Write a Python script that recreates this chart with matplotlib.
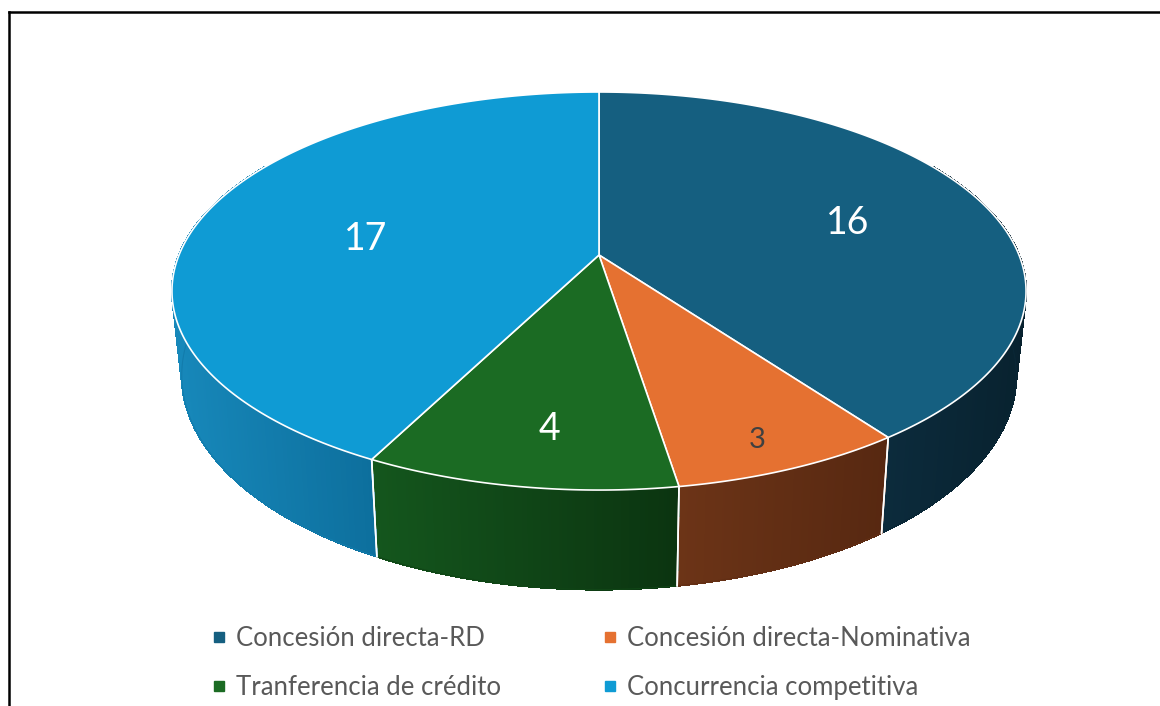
import numpy as np
import matplotlib
matplotlib.use("Agg")
import matplotlib.pyplot as plt
from matplotlib.patches import Polygon
from matplotlib.lines import Line2D

# datos
categorias = ["Concesión directa-RD", "Concesión directa-Nominativa",
              "Tranferencia de crédito", "Concurrencia competitiva"]
valores = [16, 3, 4, 17]

# estilos
col_top = ["#155f80", "#e57131", "#1b6b23", "#0f9bd4"]
col_side_izq = ["#0c2b3c", "#6c3417", "#14561d", "#1788ba"]
col_side_der = ["#08222f", "#572811", "#0b3410", "#0d6f9d"]
col_lbl = ["white", "#404040", "white", "white"]
tam_lbl = [27, 21, 27, 27]
lbl_r = [0.645, 0.845, 0.66, 0.585]
lbl_dy = [5, 10, 32, 10]

# geometria (pixeles)
W, H = 1160, 706
cx, cy = 599, 255
RX, RY, K = 420, 192.5, 0.181
T, SHRINK = 81.5, 0.977

plt.rcParams['font.family'] = ['Lato', 'DejaVu Sans']


def proj(theta, r=1.0):
    t = np.radians(theta)
    u = r * np.sin(t)
    v = r * np.cos(t)
    s = 1.0 / (1.0 + K * v)
    return cx + RX * u * s, cy - RY * v * s, s


def fondo(theta):
    x, y, s = proj(theta)
    return cx + SHRINK * (x - cx), y + T * s


def mezcla(c1, c2, f):
    a = np.array(matplotlib.colors.to_rgb(c1))
    b = np.array(matplotlib.colors.to_rgb(c2))
    return tuple(a + (b - a) * f)


fig = plt.figure(figsize=(W / 100, H / 100), dpi=100)
ax = fig.add_axes([0, 0, 1, 1])
ax.set_xlim(0, W)
ax.set_ylim(H, 0)
ax.axis("off")

total = float(sum(valores))
angs = np.concatenate([[0], np.cumsum(valores) / total * 360])

# laterales
for i in range(len(valores)):
    a0, a1 = max(angs[i], 60), min(angs[i + 1], 300)
    if a1 <= a0:
        continue
    th = np.linspace(a0, a1, 120)
    xs_all = [proj(t)[0] for t in th]
    xmin, xmax = min(xs_all), max(xs_all)
    for j in range(len(th) - 1):
        p1 = proj(th[j])[:2]
        p2 = proj(th[j + 1])[:2]
        b1 = fondo(th[j])
        b2 = fondo(th[j + 1])
        xm = (p1[0] + p2[0]) / 2
        f = (xm - xmin) / (xmax - xmin) if xmax > xmin else 0
        c = mezcla(col_side_izq[i], col_side_der[i], f)
        ax.add_patch(Polygon([p1, p2, b2, b1], closed=True, facecolor=c,
                             edgecolor=c, lw=0.8, antialiased=False, zorder=2))
    # contorno suave del lateral
    borde = [fondo(t) for t in th]
    ax.plot([b[0] for b in borde], [b[1] for b in borde],
            color=mezcla(col_side_izq[i], col_side_der[i], 0.5), lw=0.8, zorder=2)
    # bordes verticales
    for a in (angs[i], angs[i + 1]):
        if 60 < a < 300:
            p = proj(a)[:2]
            b = fondo(a)
            ax.plot([p[0], b[0]], [p[1], b[1]], color="white", lw=1.2, zorder=3)

# caras superiores
for i in range(len(valores)):
    th = np.linspace(angs[i], angs[i + 1], 200)
    pts = [(cx, cy)] + [proj(t)[:2] for t in th]
    ax.add_patch(Polygon(pts, closed=True, facecolor=col_top[i],
                         edgecolor="white", lw=1.2, joinstyle="round", zorder=4))

# etiquetas
for i in range(len(valores)):
    mid = (angs[i] + angs[i + 1]) / 2
    x, y, _ = proj(mid, lbl_r[i])
    ax.text(x, y + lbl_dy[i], str(valores[i]), color=col_lbl[i],
            fontsize=tam_lbl[i], ha="center", va="center", zorder=5)

# leyenda
handles = [Line2D([], [], marker="s", ls="none", markersize=6.5,
                  markerfacecolor=c, markeredgecolor=c) for c in col_top]
orden = [0, 2, 1, 3]
leg = fig.legend([handles[k] for k in orden], [categorias[k] for k in orden],
                 ncol=2, loc="center", bbox_to_anchor=(590 / W, 1 - 663 / H),
                 frameon=False, fontsize=18.5, handletextpad=0.3,
                 columnspacing=3.9, labelspacing=0.9, handlelength=0.7,
                 borderpad=0.2)
for t in leg.get_texts():
    t.set_color("#595959")

# marco
fig.add_artist(Line2D([9 / W, 9 / W], [0, 1 - 12 / H], color="black", lw=1.8))
fig.add_artist(Line2D([9 / W, 1], [1 - 12 / H, 1 - 12 / H], color="black", lw=1.8))

fig.savefig("out.png", dpi=100)
